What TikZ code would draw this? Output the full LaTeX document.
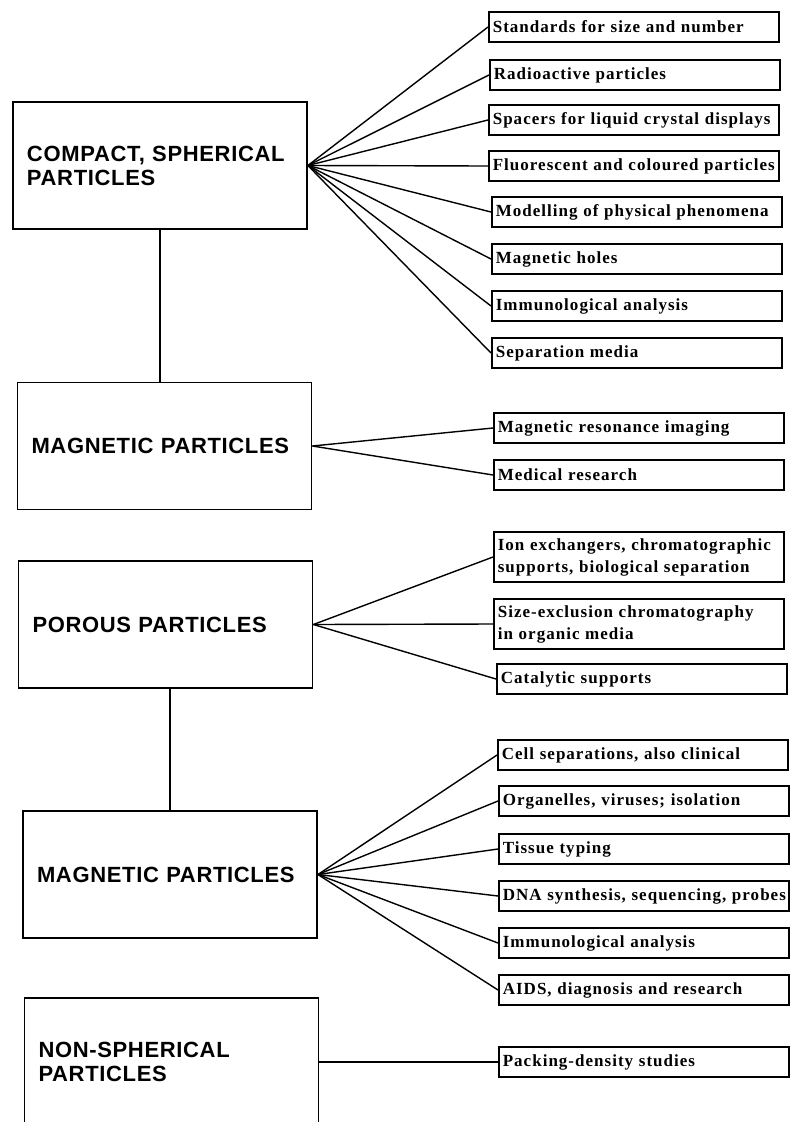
\documentclass[tikz,border=0pt]{standalone}
\usepackage{fontspec}
\setmainfont{Liberation Serif}
\newfontfamily\headfont[LetterSpace=3]{Liberation Sans}
\newfontfamily\itemfont[LetterSpace=6,WordSpace=1.3]{Liberation Serif}
\usetikzlibrary{positioning}

\tikzset{
  bigbox/.style={draw, line width=1.8pt, minimum height=127pt, text width=266pt,
    inner xsep=14pt, align=left, font=\headfont\bfseries\fontsize{22}{24}\selectfont},
  usebox/.style={draw, line width=1.6pt, anchor=west, minimum height=30pt, text width=282pt,
    inner xsep=4pt, inner ysep=6pt, align=left, font=\itemfont\bfseries\fontsize{17}{22}\selectfont},
  link/.style={line width=1.4pt}
}

\begin{document}
\begin{tikzpicture}[x=1pt, y=-1pt]
\useasboundingbox (0,0) rectangle (790,1122);
\clip (0,0) rectangle (790,1122);
% particle classes
\node[bigbox] (compact) at (160,165.5) {COMPACT, SPHERICAL\\PARTICLES};
\node[bigbox] (mag1) at (164.5,446) {MAGNETIC PARTICLES};
\node[bigbox] (porous) at (165.5,624.5) {POROUS PARTICLES};
\node[bigbox] (mag2) at (170,874.5) {MAGNETIC PARTICLES};
\node[bigbox, minimum height=128pt] (nonsph) at (171.5,1062) {NON-SPHERICAL\\PARTICLES};
\draw[link] (compact.south) -- (compact.south |- mag1.north);
\draw[link] (mag2.north) -- (mag2.north |- porous.south);
% uses of compact spherical particles
\node[usebox] (s1) at (488,27) {Standards for size and number};
\node[usebox] (s2) at (489,75) {Radioactive particles};
\node[usebox] (s3) at (488,120) {Spacers for liquid crystal displays};
\node[usebox] (s4) at (488,166) {Fluorescent and coloured particles};
\node[usebox] (s5) at (491,212) {Modelling of physical phenomena};
\node[usebox] (s6) at (491,259) {Magnetic holes};
\node[usebox] (s7) at (491,306) {Immunological analysis};
\node[usebox] (s8) at (491,353) {Separation media};
% uses of magnetic particles
\node[usebox] (m1) at (493,428) {Magnetic resonance imaging};
\node[usebox] (m2) at (493,475) {Medical research};
% uses of porous particles
\node[usebox] (p1) at (493,557) {Ion exchangers, chromatographic\\supports, biological separation};
\node[usebox] (p2) at (493,624) {Size-exclusion chromatography\\in organic media};
\node[usebox] (p3) at (496,679) {Catalytic supports};
% uses of porous magnetic particles
\node[usebox] (c1) at (497,755) {Cell separations, also clinical};
\node[usebox] (c2) at (498,801) {Organelles, viruses; isolation};
\node[usebox] (c3) at (498,849) {Tissue typing};
\node[usebox] (c4) at (498,896) {DNA synthesis, sequencing, probes};
\node[usebox] (c5) at (498,943) {Immunological analysis};
\node[usebox] (c6) at (498,990) {AIDS, diagnosis and research};
% uses of non-spherical particles
\node[usebox] (n1) at (498,1062) {Packing-density studies};
% fans
\foreach \t in {s1,s2,s3,s4,s5,s6,s7,s8}
  \draw[link] (compact.east) -- (\t.west);
\foreach \t in {m1,m2}
  \draw[link] (mag1.east) -- (\t.west);
\foreach \t in {p1,p2,p3}
  \draw[link] (porous.east) -- (\t.west);
\foreach \t in {c1,c2,c3,c4,c5,c6}
  \draw[link] (mag2.east) -- (\t.west);
\draw[link] (nonsph.east) -- (n1.west);
\end{tikzpicture}
\end{document}
